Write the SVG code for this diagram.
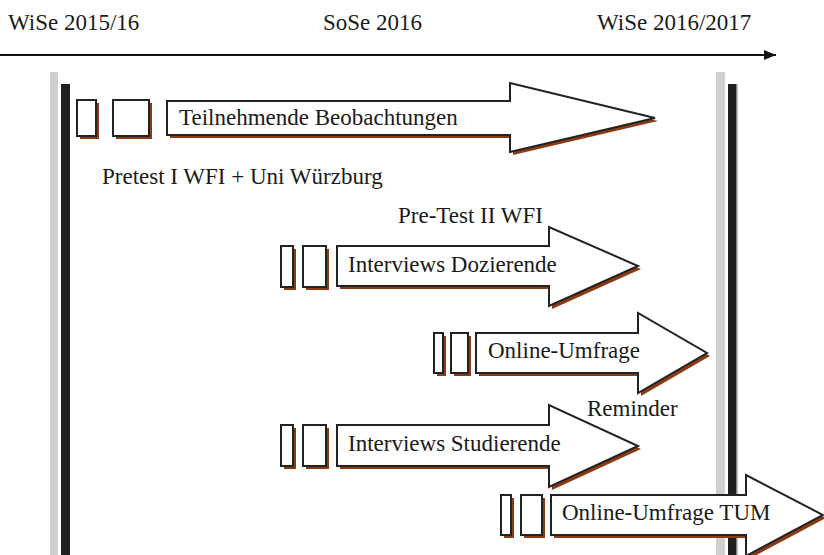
<svg xmlns="http://www.w3.org/2000/svg" width="824" height="555" viewBox="0 0 824 555">
<defs>
<style>
.t{font-family:"Liberation Serif","Times New Roman",serif;font-size:23px;fill:#1a1a1a}
.sh{fill:#8a3b14}
.ar{fill:#fff;stroke:#222;stroke-width:2;stroke-linejoin:miter}
.bx{fill:#fff;stroke:#222;stroke-width:2}
.gbar{fill:#d0d0d0}
.kbar{fill:#1f1f1f}
</style>
<marker id="ah" viewBox="0 0 12 10" refX="12" refY="5" markerWidth="12" markerHeight="10" markerUnits="userSpaceOnUse" orient="auto">
<path d="M0,0 L12,5 L0,10 Z" fill="#111"/>
</marker>
</defs>
<rect width="824" height="555" fill="#fff"/>

<g id="headers">
<text class="t" x="8" y="30">WiSe 2015/16</text>
<text class="t" x="323" y="30">SoSe 2016</text>
<text class="t" x="597" y="30">WiSe 2016/2017</text>
</g>

<g id="connectors">
<line x1="0" y1="55" x2="776" y2="55" stroke="#111" stroke-width="2" marker-end="url(#ah)"/>
</g>

<g id="bars">
<rect class="gbar" x="50" y="72" width="8" height="483"/>
<rect class="kbar" x="61" y="84" width="9" height="471"/>
<rect class="gbar" x="716" y="72" width="9" height="483"/>
<rect class="kbar" x="728" y="84" width="8" height="471"/>
<rect x="736" y="84" width="1.5" height="471" fill="#888"/>
</g>

<g id="teilnehmende">
<rect class="sh" x="80" y="103" width="19" height="36"/>
<rect class="bx" x="77" y="100" width="19" height="36"/>
<rect class="sh" x="116" y="103" width="36" height="36"/>
<rect class="bx" x="113" y="100" width="36" height="36"/>
<polygon class="sh" transform="translate(3,3)" points="167,101 510,101 510,83 655,118 510,152 510,135 167,135"/>
<polygon class="ar" points="167,101 510,101 510,83 655,118 510,152 510,135 167,135"/>
<text class="t" x="179" y="125">Teilnehmende Beobachtungen</text>
</g>

<g id="pretest1">
<text class="t" x="102" y="184">Pretest I WFI + Uni Würzburg</text>
</g>

<g id="pretest2">
<text class="t" x="398" y="223">Pre-Test II WFI</text>
</g>

<g id="interviews-dozierende">
<rect class="sh" x="284" y="249" width="12" height="41"/>
<rect class="bx" x="281" y="246" width="12" height="41"/>
<rect class="sh" x="306" y="249" width="23" height="41"/>
<rect class="bx" x="303" y="246" width="23" height="41"/>
<polygon class="sh" transform="translate(3,3)" points="337,246 549,246 549,227 638,266 549,306 549,286 337,286"/>
<polygon class="ar" points="337,246 549,246 549,227 638,266 549,306 549,286 337,286"/>
<text class="t" x="348" y="272">Interviews Dozierende</text>
</g>

<g id="online-umfrage">
<rect class="sh" x="437" y="336" width="9" height="40"/>
<rect class="bx" x="434" y="333" width="9" height="40"/>
<rect class="sh" x="454" y="336" width="17" height="40"/>
<rect class="bx" x="451" y="333" width="17" height="40"/>
<polygon class="sh" transform="translate(3,3)" points="476,333 638,333 638,313 707,353 638,393 638,373 476,373"/>
<polygon class="ar" points="476,333 638,333 638,313 707,353 638,393 638,373 476,373"/>
<text class="t" x="488" y="358">Online-Umfrage</text>
</g>

<g id="reminder">
<text class="t" x="587" y="416">Reminder</text>
</g>

<g id="interviews-studierende">
<rect class="sh" x="284" y="428" width="12" height="41"/>
<rect class="bx" x="281" y="425" width="12" height="41"/>
<rect class="sh" x="306" y="428" width="23" height="41"/>
<rect class="bx" x="303" y="425" width="23" height="41"/>
<polygon class="sh" transform="translate(3,3)" points="337,425 549,425 549,405 638,446 549,487 549,466 337,466"/>
<polygon class="ar" points="337,425 549,425 549,405 638,446 549,487 549,466 337,466"/>
<text class="t" x="348" y="451">Interviews Studierende</text>
</g>

<g id="online-umfrage-tum">
<rect class="sh" x="504" y="498" width="10" height="40"/>
<rect class="bx" x="501" y="495" width="10" height="40"/>
<rect class="sh" x="524" y="498" width="21" height="40"/>
<rect class="bx" x="521" y="495" width="21" height="40"/>
<polygon class="sh" transform="translate(3,3)" points="551,495 746,495 746,475 823,515 746,556 746,535 551,535"/>
<polygon class="ar" points="551,495 746,495 746,475 823,515 746,556 746,535 551,535"/>
<text class="t" x="562" y="520">Online-Umfrage TUM</text>
</g>
</svg>
